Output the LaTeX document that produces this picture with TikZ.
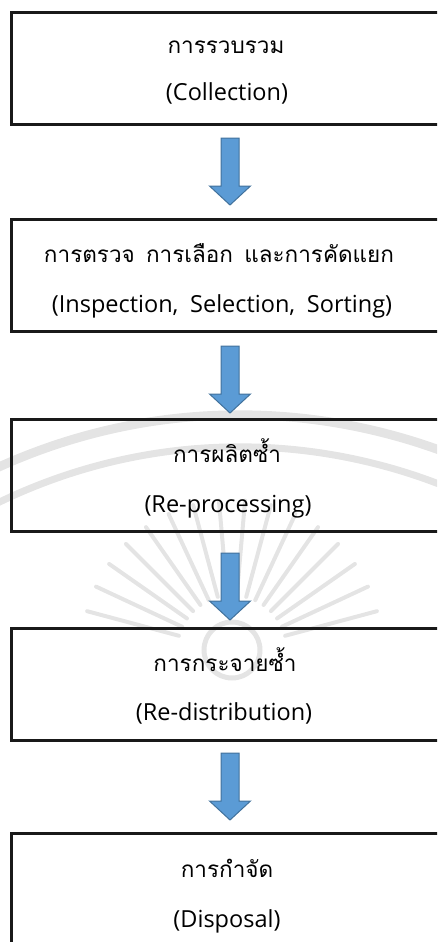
\documentclass[tikz,border=0pt]{standalone}
\usepackage{fontspec}
\setmainfont{Open Sans}
\newfontfamily\thai[Script=Thai]{Loma}
\usetikzlibrary{calc}

\definecolor{arrowblue}{HTML}{5B9BD5}
\definecolor{arrowedge}{HTML}{41719C}
\definecolor{faint}{HTML}{E4E4E4}

\tikzset{
  stagebox/.style={draw=black!90, line width=2.6pt, minimum width=432pt,
    minimum height=112pt, inner sep=0pt, anchor=north west},
  thline/.style={anchor=base, inner sep=0pt, font=\thai\fontsize{22.5}{26}\selectfont},
  enline/.style={anchor=base, inner sep=0pt, font=\fontsize{23.5}{28}\selectfont},
  blockarrow/.style={draw=arrowedge, line width=1pt, fill=arrowblue, line join=miter},
  seal/.style={draw=faint, line cap=round},
}
% slightly wider word gap used in the longer labels
\newcommand\gap{\hspace{0.5em}}
% downward block arrow, 67 long, starting at a named coordinate
\newcommand\stagearrow[1]{%
  \draw[blockarrow] ($(#1)+(-9,0)$) -- ($(#1)+(9,0)$) -- ($(#1)+(9,48)$)
    -- ($(#1)+(20.5,48)$) -- ($(#1)+(0,67)$) -- ($(#1)+(-20.5,48)$)
    -- ($(#1)+(-9,48)$) -- cycle;}

\begin{document}
\begin{tikzpicture}[x=1pt, y={(0pt,-1pt)}]
  \useasboundingbox (0,0) rectangle (437,942);
  \clip (0,0) rectangle (437,942);

  % faint emblem in the background: rims and sun rays
  \coordinate (rim) at (240,1000);
  \draw[seal, line width=9pt] ($(rim)+(195:585)$) arc[start angle=195, end angle=345, radius=585];
  \draw[seal, line width=7pt] ($(rim)+(195:553)$) arc[start angle=195, end angle=345, radius=553];
  \coordinate (sun) at (232,650);
  \foreach \a in {195,205,...,345}
    \draw[seal, line width=4pt] ($(sun)+(\a:55)$) -- ($(sun)+(\a:150)$);
  \draw[seal, line width=5pt] (sun) circle[radius=28];

  % stage boxes, running out past the right edge
  \node[stagebox] (b1) at (10,11) {};
  \node[stagebox] (b2) at (10,218) {};
  \node[stagebox] (b3) at (10,418) {};
  \node[stagebox] (b4) at (10,627) {};
  \node[stagebox] (b5) at (10,832) {};

  % labels: Thai line above, English line below
  \node[thline] (t1) at ($(b1.north west)+(216,42)$) {การรวบรวม};
  \node[enline] (e1) at ($(b1.north west)+(217,89)$) {(Collection)};
  \node[thline] (t2) at ($(b2.north west)+(209,44)$) {การตรวจ\gap การเลือก\gap และการคัดแยก};
  \node[enline] (e2) at ($(b2.north west)+(212,94)$) {(Inspection,\gap Selection,\gap Sorting)};
  \node[thline] (t3) at ($(b3.north west)+(217,44)$) {การผลิตซ้ำ};
  \node[enline] (e3) at ($(b3.north west)+(218,94)$) {(Re-processing)};
  \node[thline] (t4) at ($(b4.north west)+(215,44)$) {การกระจายซ้ำ};
  \node[enline] (e4) at ($(b4.north west)+(214,93)$) {(Re-distribution)};
  \node[thline] (t5) at ($(b5.north west)+(217,45)$) {การกำจัด};
  \node[enline] (e5) at ($(b5.north west)+(217,95)$) {(Disposal)};

  % block arrows between the stages
  \coordinate (a1) at (230,138);
  \coordinate (a2) at (230,346);
  \coordinate (a3) at (230,553);
  \coordinate (a4) at (230,753);
  \stagearrow{a1}
  \stagearrow{a2}
  \stagearrow{a3}
  \stagearrow{a4}
\end{tikzpicture}
\end{document}
